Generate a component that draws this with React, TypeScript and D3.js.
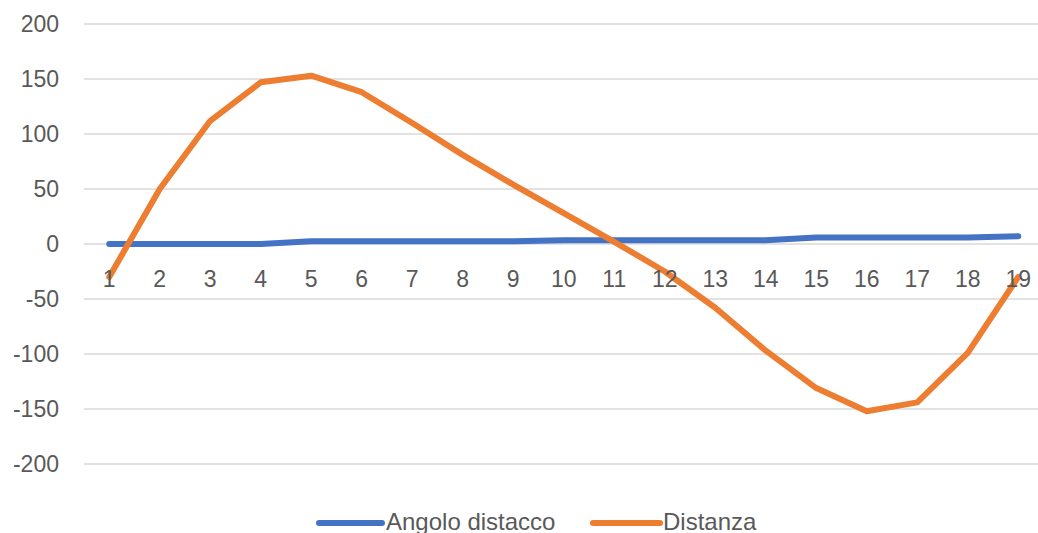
import React from "react";
import * as d3 from "d3";

const categories: string[] = ["1","2","3","4","5","6","7","8","9","10","11","12","13","14","15","16","17","18","19"];
const angoloDistacco: number[] = [0, 0, 0, 0, 2.5, 2.5, 2.5, 2.5, 2.5, 3.5, 3.5, 3.5, 3.5, 3.5, 6, 6, 6, 6, 7];
const distanza: number[] = [-30, 50, 112, 147, 153, 138, 110, 81, 54, 28, 2, -25, -58, -97, -131, -152, -144, -99, -30];
const yTicks: number[] = [200, 150, 100, 50, 0, -50, -100, -150, -200];
const seriesNames: string[] = ["Angolo distacco", "Distanza"];
const seriesColors: string[] = ["#4472C4", "#ED7D31"];

const W = 1038;
const H = 533;

export default function App() {
  const plotLeft = 84;
  const band = 50.5;
  const x = d3
    .scaleBand<string>()
    .domain(categories)
    .range([plotLeft, plotLeft + band * categories.length])
    .padding(0);
  const cx = (c: string) => (x(c) as number) + x.bandwidth() / 2;
  const y = d3.scaleLinear().domain([-200, 200]).range([464, 24]);

  const line = d3
    .line<number>()
    .x((_, i) => cx(categories[i]))
    .y((d) => y(d));

  const font = "'Liberation Sans', Arial, sans-serif";
  const textColor = "#595959";

  const series = [angoloDistacco, distanza];

  return (
    <svg
      width={W}
      height={H}
      style={{ position: "absolute", left: 0, top: 0, background: "#fff" }}
    >
      <rect x={0} y={0} width={W} height={H} fill="#fff" />
      {yTicks.map((t) => (
        <g key={t}>
          <line
            x1={plotLeft}
            x2={plotLeft + band * categories.length}
            y1={y(t)}
            y2={y(t)}
            stroke="#d9d9d9"
            strokeWidth={1.3}
          />
          <text
            x={59}
            y={y(t)}
            dy="0.36em"
            textAnchor="end"
            fontFamily={font}
            fontSize={23}
            fill={textColor}
          >
            {t}
          </text>
        </g>
      ))}
      {series.map((s, k) => (
        <path
          key={k}
          d={line(s) || ""}
          fill="none"
          stroke={seriesColors[k]}
          strokeWidth={6}
          strokeLinejoin="round"
          strokeLinecap="round"
        />
      ))}
      {categories.map((c) => (
        <text
          key={c}
          x={cx(c)}
          y={287}
          textAnchor="middle"
          fontFamily={font}
          fontSize={23}
          fill={textColor}
        >
          {c}
        </text>
      ))}
      <g>
        <line x1={319} x2={382} y1={523} y2={523} stroke={seriesColors[0]} strokeWidth={6} strokeLinecap="round" />
        <text x={386} y={530} fontFamily={font} fontSize={24} fill={textColor}>
          {seriesNames[0]}
        </text>
        <line x1={593} x2={660} y1={523} y2={523} stroke={seriesColors[1]} strokeWidth={6} strokeLinecap="round" />
        <text x={663} y={530} fontFamily={font} fontSize={24} fill={textColor}>
          {seriesNames[1]}
        </text>
      </g>
    </svg>
  );
}
